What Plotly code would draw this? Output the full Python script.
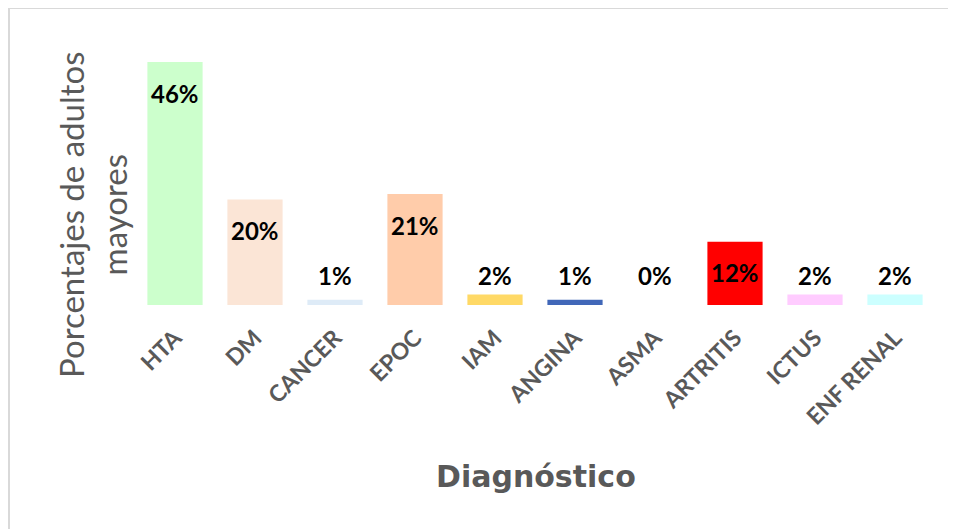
import plotly.graph_objects as go

categories = ["HTA", "DM", "CANCER", "EPOC", "IAM", "ANGINA", "ASMA", "ARTRITIS", "ICTUS", "ENF RENAL"]
values = [46, 20, 1, 21, 2, 1, 0, 12, 2, 2]
labels = ["46%", "20%", "1%", "21%", "2%", "1%", "0%", "12%", "2%", "2%"]
colors = ["#CCFFCC", "#FBE5D6", "#DEEBF7", "#FFCCAA", "#FFD966", "#4167B8",
          "#FFFFFF", "#FF0000", "#FFCCFF", "#CCFFFF"]

GREY = "#595959"
OFF = 8  # page body margin
W, H = 956, 529
ML, MR, MT, MB = 135 - OFF, 21 + OFF, 41 - OFF, 224 + OFF
PW, PH = W - ML - MR, H - MT - MB


def px_x(p):
    return (p - OFF - ML) / PW


def px_y(p):
    return (H - MB - (p - OFF)) / PH


fig = go.Figure()
fig.add_trace(go.Bar(
    x=categories, y=values,
    marker=dict(color=colors, line=dict(width=0)),
    width=0.69,
    hoverinfo="x+y",
))

annotations = []
for c, v, t in zip(categories, values, labels):
    if v >= 5:
        annotations.append(dict(x=c, y=v, xref="x", yref="y", text=t, showarrow=False,
                                yanchor="middle", yshift=-31,
                                font=dict(family="Lato", size=24, color="#000000", weight="bold")))
    else:
        annotations.append(dict(x=c, y=0, xref="x", yref="y", text=t, showarrow=False,
                                yanchor="middle", yshift=30,
                                font=dict(family="Lato", size=24, color="#000000", weight="bold")))

annotations.append(dict(
    x=px_x(92), y=px_y(215), xref="paper", yref="paper",
    text="Porcentajes de adultos<br>mayores", textangle=-90, showarrow=False,
    xanchor="center", yanchor="middle",
    font=dict(family="Lato", size=33, color=GREY),
))
annotations.append(dict(
    x=px_x(536), y=px_y(477), xref="paper", yref="paper",
    text="Diagnóstico", showarrow=False, xanchor="center", yanchor="middle",
    font=dict(family="DejaVu Sans", size=30, color=GREY, weight="bold"),
))

fig.update_layout(
    width=W, height=H,
    margin=dict(l=ML, r=MR, t=MT, b=MB),
    paper_bgcolor="white", plot_bgcolor="white",
    showlegend=False,
    annotations=annotations,
    xaxis=dict(
        tickangle=-45, showline=False, showgrid=False, ticks="",
        ticklabelstandoff=14,
        tickfont=dict(family="Lato", size=23, color=GREY, weight="bold"),
        fixedrange=True,
    ),
    yaxis=dict(range=[0, 50], visible=False, showgrid=False, zeroline=False, fixedrange=True),
    shapes=[
        dict(type="line", xref="paper", yref="paper", x0=px_x(9), x1=px_x(980),
             y0=px_y(8), y1=px_y(8), line=dict(color="#D9D9D9", width=2)),
        dict(type="line", xref="paper", yref="paper", x0=px_x(9), x1=px_x(9),
             y0=px_y(8), y1=px_y(560), line=dict(color="#D9D9D9", width=2)),
    ],
)

fig.write_html("out.html")
